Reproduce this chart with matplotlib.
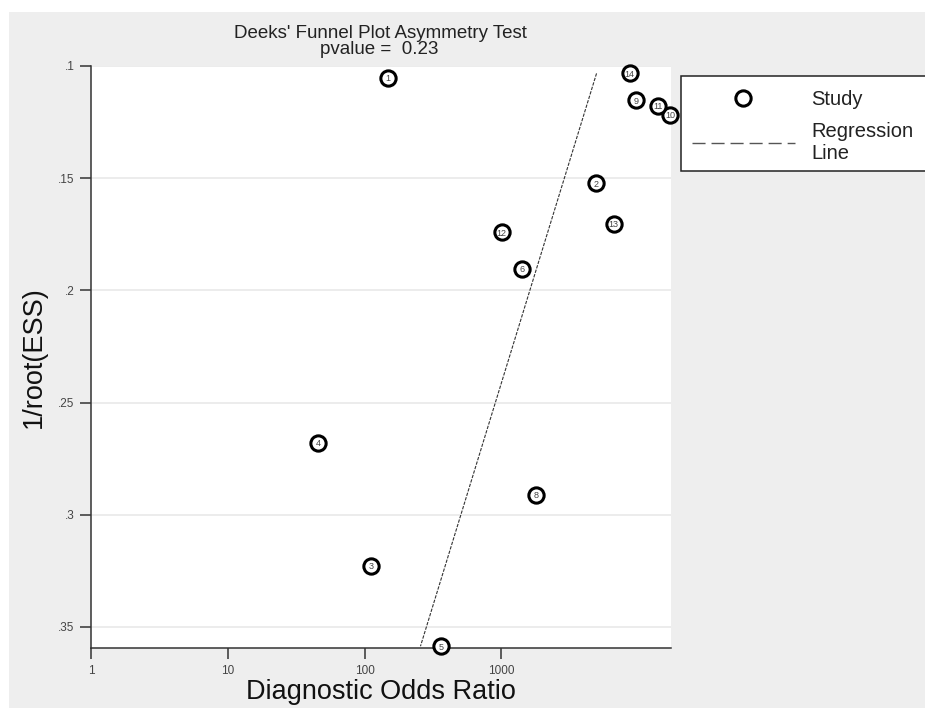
import numpy as np
import matplotlib
matplotlib.use("Agg")
import matplotlib.pyplot as plt
from matplotlib.lines import Line2D
from matplotlib.patches import Rectangle

plt.rcParams['font.family'] = ['Liberation Sans', 'DejaVu Sans']

# ---- data ----
study_ids = ["1", "2", "3", "4", "5", "6", "8", "9", "10", "11", "12", "13", "14"]
dor = [148, 4930, 111, 45.7, 363, 1419, 1807, 9610, 17090, 13870, 1005, 6640, 8690]
inv_root_ess = [0.1052, 0.1522, 0.3227, 0.2680, 0.3586, 0.1903, 0.2910,
                0.1152, 0.1218, 0.1177, 0.1742, 0.1704, 0.1033]
# regression: ln(DOR) = intercept + slope * 1/root(ESS)
reg_intercept = 9.71
reg_slope = -11.61
pvalue = 0.23
y_ticks = [0.10, 0.15, 0.20, 0.25, 0.30, 0.35]
y_tick_labels = [".1", ".15", ".2", ".25", ".3", ".35"]
x_ticks = [1, 10, 100, 1000]
x_tick_labels = ["1", "10", "100", "1000"]

W, H = 925, 708
fig = plt.figure(figsize=(W / 100, H / 100), dpi=100, facecolor='white')
# gray outer region
fig.patches.append(Rectangle((9 / W, 0), 1, 1 - 12 / H, transform=fig.transFigure,
                             facecolor='#EEEEEE', edgecolor='none', zorder=-5))

ax = fig.add_axes([91 / W, (H - 648) / H, 580 / W, 582 / H])
ax.set_facecolor('white')
ax.set_xscale('log')
ax.set_xlim(1, 17400)
ax.set_ylim(0.3594, 0.1)

for s in ['top', 'right']:
    ax.spines[s].set_visible(False)
for s in ['left', 'bottom']:
    ax.spines[s].set_color('#333333')
    ax.spines[s].set_linewidth(1.1)

ax.set_yticks(y_ticks)
ax.set_yticklabels(y_tick_labels)
ax.set_xticks(x_ticks)
ax.set_xticklabels(x_tick_labels)
ax.xaxis.set_minor_locator(matplotlib.ticker.NullLocator())
ax.tick_params(axis='both', length=8, width=1.1, color='#333333',
               labelsize=8.5, labelcolor='#444444', pad=4)
ax.grid(axis='y', color='#EAEAEA', linewidth=1.3)
ax.set_axisbelow(True)

# regression line over range of the data
yy = np.array([min(inv_root_ess), max(inv_root_ess)])
xx = np.exp(reg_intercept + reg_slope * yy)
ax.plot(xx, yy, color='#333333', lw=0.8, dashes=(3, 1.2), zorder=2)

# studies
ax.plot(dor, inv_root_ess, ls='none', marker='o', ms=11, mew=2.2,
        mec='black', mfc='white', clip_on=False, zorder=3)
for sid, xv, yv in zip(study_ids, dor, inv_root_ess):
    ax.text(xv, yv, sid, ha='center', va='center_baseline', fontsize=6.5,
            color='#444444', zorder=4, clip_on=False)

ax.set_xlabel("Diagnostic Odds Ratio", fontsize=19.5, color='#111111', labelpad=2)
ax.set_ylabel("1/root(ESS)", fontsize=19.5, color='#111111', labelpad=8)

# titles
fig.text(380 / W, 1 - 33 / H, "Deeks' Funnel Plot Asymmetry Test", ha='center',
         va='center', fontsize=13.5, color='#222222')
fig.text(379 / W, 1 - 49 / H, "pvalue =  %.2f" % pvalue, ha='center',
         va='center', fontsize=13.5, color='#222222')

# legend frame
fig.patches.append(Rectangle((680.7 / W, 1 - 171 / H), 260 / W, 95.3 / H,
                             transform=fig.transFigure, facecolor='white',
                             edgecolor='#222222', lw=1.1, zorder=1))
handles = [Line2D([], [], ls='none', marker='o', ms=11, mew=2.2, mec='black', mfc='white'),
           Line2D([], [], color='#555555', lw=1, dashes=(9.4, 4.3))]
fig.legend(handles, ["Study", "Regression\nLine"], loc='upper left',
           bbox_to_anchor=(674 / W, 1 - 71.5 / H), frameon=False, fontsize=14.5,
           handlelength=5.1, handletextpad=0.8, labelspacing=0.67,
           borderpad=0.4, labelcolor='#222222')

fig.savefig("out.png", dpi=100, facecolor='white')
